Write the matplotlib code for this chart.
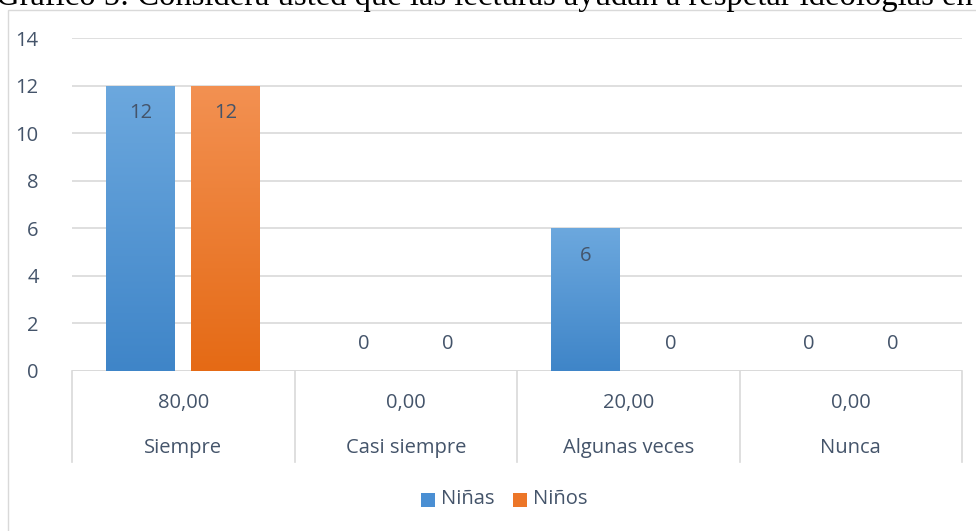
import numpy as np
import matplotlib.pyplot as plt
from matplotlib.patches import Rectangle
from matplotlib.colors import LinearSegmentedColormap

plt.rcParams['font.family'] = ['Open Sans', 'DejaVu Sans']

categorias = ['Siempre', 'Casi siempre', 'Algunas veces', 'Nunca']
porcentajes = ['80,00', '0,00', '20,00', '0,00']
ninas = [12, 0, 6, 0]
ninos = [12, 0, 0, 0]
titulo = 'Gráfico 5: Considera usted que las lecturas ayudan a respetar ideologías en'

W, H = 976, 531
texto = '#44546a'
grid = '#d9d9d9'
fs = 14.5

fig = plt.figure(figsize=(W / 100, H / 100), dpi=100)

# borde del area del grafico
fig.patches.append(Rectangle((8 / W, -0.1), 1.1, 1 - 10 / H + 0.1, transform=fig.transFigure,
                             fill=False, edgecolor='#d9d9d9', linewidth=1.0))

# titulo cortado arriba, como en la imagen original
fig.text(-4 / W, 1 - 5 / H, titulo, family='Liberation Serif', fontsize=23.5,
         color='black', ha='left', va='baseline')

ax = fig.add_axes([72 / W, (H - 371) / H, (962 - 72) / W, (371 - 38) / H])

x = np.arange(len(categorias))
off = 0.191
ancho = 0.31


def barras_gradiente(xs, vals, c_top, c_bot):
    bars = ax.bar(xs, vals, ancho, color='none', edgecolor='none', zorder=3)
    grad = np.linspace(0, 1, 256).reshape(-1, 1)
    cmap = LinearSegmentedColormap.from_list('g', [c_top, c_bot])
    for b in bars:
        if b.get_height() <= 0:
            continue
        x0, y0 = b.get_x(), b.get_y()
        im = ax.imshow(grad, cmap=cmap, aspect='auto', zorder=3,
                       extent=(x0, x0 + b.get_width(), y0, y0 + b.get_height()),
                       origin='upper')
        im.set_clip_path(b)
    return bars


barras_gradiente(x - off, ninas, '#6ca8de', '#3f85c8')
barras_gradiente(x + off, ninos, '#f39152', '#e56a15')

for xs, vals in ((x - off, ninas), (x + off, ninos)):
    for xi, v in zip(xs, vals):
        yl = v - 1.15 if v > 0 else 1.15
        ax.text(xi, yl, str(v), ha='center', va='center', fontsize=fs, color=texto, zorder=4)

ax.set_xlim(-0.5, 3.5)
ax.set_ylim(0, 14)
ax.set_yticks(range(0, 15, 2))
ax.yaxis.grid(True, color=grid, linewidth=1.2)
ax.set_axisbelow(True)
for s in ax.spines.values():
    s.set_visible(False)
ax.tick_params(axis='y', length=0, labelsize=fs, labelcolor=texto, pad=24)
ax.set_xticks([])
ax.axhline(0, color=grid, linewidth=1.2, zorder=2)

# eje de categorias con dos niveles
y_fin = -(462 - 371) / (371 - 38)
for b in np.arange(-0.5, 4.0, 1.0):
    ax.plot([b, b], [0, y_fin], transform=ax.get_xaxis_transform(), color=grid,
            linewidth=1.2, clip_on=False)
for xi, p, c in zip(x, porcentajes, categorias):
    ax.text(xi, -(403 - 371) / 333, p, transform=ax.get_xaxis_transform(),
            ha='center', va='center', fontsize=fs, color=texto)
    ax.text(xi, -(448 - 371) / 333, c, transform=ax.get_xaxis_transform(),
            ha='center', va='center', fontsize=fs, color=texto)

# leyenda
fig.patches.append(Rectangle((421 / W, 1 - 507 / H), 14 / W, 14 / H, transform=fig.transFigure,
                             facecolor='#4a8fd3', edgecolor='none'))
fig.text(441 / W, 1 - 499 / H, 'Niñas', fontsize=fs, color=texto, va='center')
fig.patches.append(Rectangle((513 / W, 1 - 507 / H), 14 / W, 14 / H, transform=fig.transFigure,
                             facecolor='#ec7628', edgecolor='none'))
fig.text(533 / W, 1 - 499 / H, 'Niños', fontsize=fs, color=texto, va='center')

fig.savefig('out.png', dpi=100)
